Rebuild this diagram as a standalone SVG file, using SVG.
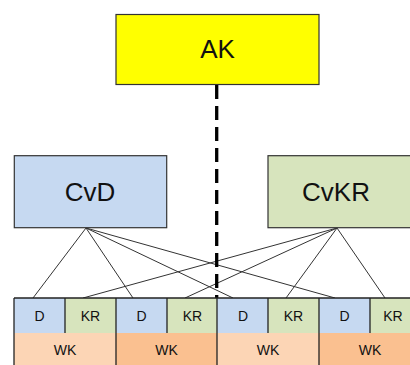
<svg xmlns="http://www.w3.org/2000/svg" width="410" height="365" viewBox="0 0 410 365">
<style>
  .box { stroke: #333; stroke-width: 1.2; }
  .t { font-family: "Liberation Sans", Arial, sans-serif; fill: #111; text-anchor: middle; }
  .big { font-size: 26px; }
  .small { font-size: 14px; }
  .conn { stroke: #333; stroke-width: 1; fill: none; }
  .div { stroke: #222; stroke-width: 1.3; }
  .d { fill: #C6D9F1; }
  .kr { fill: #D7E4BD; }
  .wk1 { fill: #FCD5B5; }
  .wk2 { fill: #FAC090; }
</style>
<rect width="410" height="365" fill="#fff"/>
<g id="connectors">
  <line class="conn" x1="86" y1="228" x2="33" y2="298"/>
  <line class="conn" x1="86" y1="228" x2="133" y2="298"/>
  <line class="conn" x1="86" y1="228" x2="233" y2="298"/>
  <line class="conn" x1="86" y1="228" x2="335" y2="298"/>
  <line class="conn" x1="337" y1="228" x2="83" y2="298"/>
  <line class="conn" x1="337" y1="228" x2="185" y2="298"/>
  <line class="conn" x1="337" y1="228" x2="286" y2="298"/>
  <line class="conn" x1="337" y1="228" x2="385" y2="298"/>
  <line x1="216.7" y1="85" x2="216.7" y2="298" stroke="#000" stroke-width="3.3" stroke-dasharray="14,7"/>
</g>
<g id="AK">
  <rect class="box" x="116" y="14.5" width="203" height="70" fill="#FFFF00"/>
  <text class="t big" x="217.5" y="58">AK</text>
</g>
<g id="CvD">
  <rect class="box" x="14.3" y="155.7" width="152.4" height="72" fill="#C6D9F1"/>
  <text class="t big" x="90" y="201">CvD</text>
</g>
<g id="CvKR">
  <rect class="box" x="268" y="155.7" width="145" height="72" fill="#D7E4BD"/>
  <text class="t big" x="336" y="201">CvKR</text>
</g>
<g id="row">
  <rect class="d" x="14" y="298" width="51" height="35"/>
  <rect class="kr" x="65" y="298" width="51" height="35"/>
  <rect class="d" x="116" y="298" width="51" height="35"/>
  <rect class="kr" x="167" y="298" width="51" height="35"/>
  <rect class="d" x="217" y="298" width="51" height="35"/>
  <rect class="kr" x="268" y="298" width="51" height="35"/>
  <rect class="d" x="319" y="298" width="51" height="35"/>
  <rect class="kr" x="370" y="298" width="41" height="35"/>
  <rect class="wk1" x="14" y="333" width="102" height="32"/>
  <rect class="wk2" x="116" y="333" width="101" height="32"/>
  <rect class="wk1" x="217" y="333" width="102" height="32"/>
  <rect class="wk2" x="319" y="333" width="92" height="32"/>
  <line class="div" x1="14" y1="298" x2="411" y2="298"/>
  <line class="div" x1="14" y1="298" x2="14" y2="365"/>
  <line class="div" x1="65" y1="298" x2="65" y2="333"/>
  <line class="div" x1="116" y1="298" x2="116" y2="365"/>
  <line class="div" x1="167" y1="298" x2="167" y2="333"/>
  <line class="div" x1="217" y1="298" x2="217" y2="365"/>
  <line class="div" x1="268" y1="298" x2="268" y2="333"/>
  <line class="div" x1="319" y1="298" x2="319" y2="365"/>
  <line class="div" x1="370" y1="298" x2="370" y2="333"/>
</g>
<g id="D1"><text class="t small" x="39.5" y="321">D</text></g>
<g id="KR1"><text class="t small" x="90.5" y="321">KR</text></g>
<g id="D2"><text class="t small" x="141.5" y="321">D</text></g>
<g id="KR2"><text class="t small" x="192.5" y="321">KR</text></g>
<g id="D3"><text class="t small" x="243" y="321">D</text></g>
<g id="KR3"><text class="t small" x="293.5" y="321">KR</text></g>
<g id="D4"><text class="t small" x="344.5" y="321">D</text></g>
<g id="KR4"><text class="t small" x="393" y="321">KR</text></g>
<g id="WK1"><text class="t small" x="65" y="355">WK</text></g>
<g id="WK2"><text class="t small" x="166.5" y="355">WK</text></g>
<g id="WK3"><text class="t small" x="268" y="355">WK</text></g>
<g id="WK4"><text class="t small" x="370" y="355">WK</text></g>
</svg>
